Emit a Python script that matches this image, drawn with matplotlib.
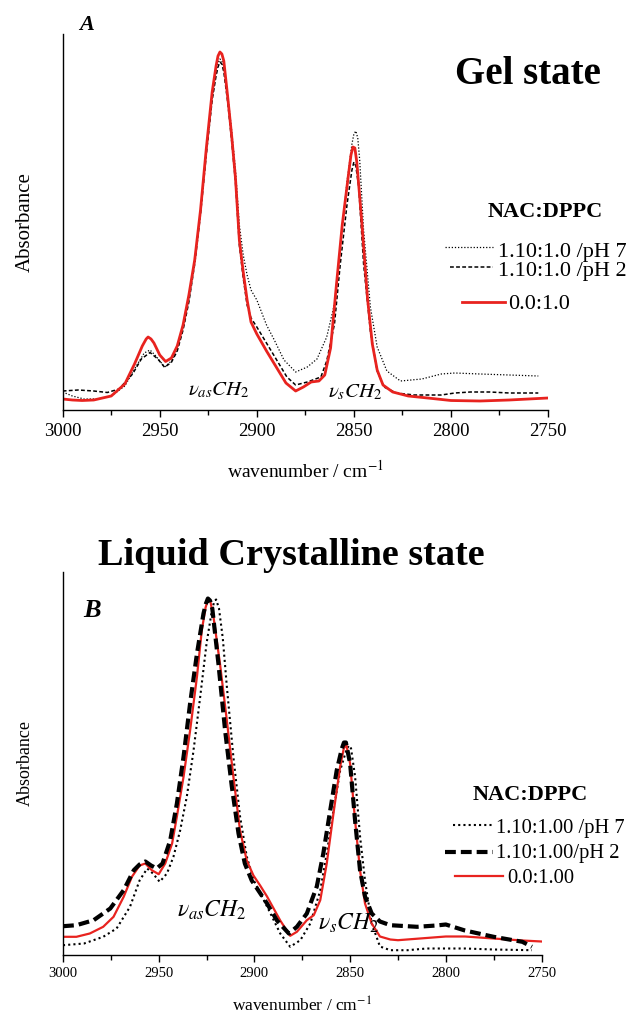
import matplotlib
matplotlib.use('Agg')
import matplotlib.pyplot as plt
from matplotlib.lines import Line2D

plt.rcParams['font.family'] = 'Liberation Serif'
plt.rcParams['mathtext.fontset'] = 'stix'

# ---- Gel state spectra (absorbance, arbitrary units) ----
gel_wn_ph7 = [3000, 2995, 2989, 2982, 2975, 2968, 2963, 2958, 2955, 2952, 2947.5, 2944, 2941, 2938,
              2935, 2932, 2929, 2926, 2923, 2921, 2920, 2919, 2918, 2917, 2915, 2913, 2911, 2909,
              2907, 2905, 2903, 2900, 2895, 2891, 2886, 2880, 2874, 2869, 2864, 2860, 2857, 2853.5,
              2851, 2850, 2849, 2848, 2847, 2845, 2841.5, 2838, 2833, 2826, 2815, 2805, 2798, 2785,
              2770, 2755]
gel_ab_ph7 = [18, 14, 11, 11, 14, 24, 41, 57, 60, 54, 43, 49, 61, 82,
              110, 148, 198, 258, 312, 338, 347, 351, 349, 343, 315, 280, 240, 185,
              155, 135, 120, 110, 85, 70, 50, 38, 43, 51, 73, 106, 163, 229,
              266, 276, 279, 272, 250, 180, 103, 63, 39, 29, 31, 36, 37, 36,
              35, 34]

gel_wn_ph2 = [3000, 2992, 2984, 2977, 2971, 2964, 2959.5, 2955, 2951, 2947.5, 2944, 2941, 2938, 2935,
              2932, 2929, 2926, 2923, 2921, 2920, 2919, 2918, 2917, 2915, 2913, 2911, 2909, 2907,
              2905, 2903, 2900, 2891, 2884.5, 2880, 2874, 2867, 2864, 2860, 2857, 2853.5, 2851,
              2850, 2849, 2847.5, 2845, 2841.5, 2838, 2834.5, 2828, 2819, 2805, 2798, 2790, 2780,
              2770, 2755]
gel_ab_ph2 = [19, 20, 19, 17.5, 21, 36, 51, 57.5, 51, 42.7, 47.7, 59, 80, 108,
              146, 196, 256, 310, 334, 343, 348, 346, 338, 308, 270, 228, 165, 132,
              105, 92, 83, 54, 33, 25, 28, 33, 49, 86, 146, 206, 240,
              248, 244, 223, 146, 79, 39, 23, 17, 15, 15, 17, 18, 18,
              17, 17]

gel_wn_ctrl = [3000, 2995, 2990, 2984, 2975, 2968, 2963, 2959, 2957, 2956, 2954.5, 2953, 2950, 2947,
               2944, 2941, 2938, 2935, 2932, 2929, 2926, 2923, 2921, 2920, 2919, 2918, 2917, 2915,
               2913, 2911, 2909, 2907, 2905, 2903, 2900, 2895, 2890, 2885, 2880, 2876, 2872, 2868,
               2865, 2862, 2859, 2856, 2853, 2851.5, 2850.5, 2849.5, 2848.5, 2846, 2843, 2840.5,
               2838, 2835, 2830, 2822, 2812, 2800, 2785, 2770, 2760, 2750]
gel_ab_ctrl = [11, 10, 9.5, 10, 14, 26, 46, 64, 71, 73, 71, 67, 55, 48.5,
               52, 64, 85, 115, 150, 200, 262, 318, 344, 354, 358, 356, 349, 313,
               275, 232, 170, 138, 110, 88, 76, 59, 43, 27, 19, 23, 28, 29,
               35, 62, 125, 185, 232, 255, 263, 262, 248, 190, 112, 66,
               40, 25, 18, 14, 12, 9.5, 9, 10, 11, 12]

# ---- Liquid crystalline state spectra ----
lc_wn_ph7 = [3000, 2989, 2979, 2972, 2965, 2960, 2956, 2953, 2949.5, 2945.7, 2942.3, 2938.8, 2935.3,
             2931.8, 2928.3, 2925, 2922.3, 2921, 2920, 2918.5, 2916.5, 2914.4, 2911, 2907.5, 2904,
             2900.3, 2893.4, 2886.5, 2881.3, 2876, 2870.8, 2865.6, 2862.2, 2858.7, 2855.2, 2851.7,
             2850.5, 2849.5, 2847.4, 2844.8, 2842.2, 2838.7, 2834.4, 2829, 2820, 2810, 2800, 2790,
             2775, 2755]
lc_ab_ph7 = [8.3, 10, 16.7, 25, 46.7, 73, 85, 80, 71.7, 80, 96.7, 123, 157,
             203, 257, 310, 342, 352, 354, 345, 315, 267, 197, 137, 97,
             73, 47, 20, 6.7, 13.3, 30, 63, 100, 143, 183, 205,
             208, 205, 177, 117, 73, 30, 7, 3.3, 3.3, 5, 5, 5,
             4, 3.3]

lc_wn_ph2 = [3000, 2993, 2984, 2975.3, 2968.3, 2963, 2960, 2957, 2954, 2951, 2948, 2944, 2940.5,
             2937, 2933.6, 2930, 2926.6, 2925.3, 2924.3, 2923.2, 2922, 2918.8, 2915.3, 2911.8,
             2908.3, 2905, 2901.4, 2893.4, 2888.2, 2882, 2877.8, 2872.6, 2867.4, 2864, 2860.4,
             2857, 2854.3, 2853.2, 2852.2, 2850, 2847.4, 2844.8, 2842.2, 2838.7, 2834.4, 2829,
             2815, 2805, 2800, 2795, 2790, 2775, 2760, 2755]
lc_ab_ph2 = [27.3, 28.3, 33.3, 45, 63.3, 83.3, 89, 92, 88, 85, 90, 113, 150,
             197, 250, 300, 340, 350, 355, 353, 345, 290, 223, 167,
             120, 90, 73, 50, 33, 20, 26.7, 40, 67, 100, 143,
             183, 205, 211, 211, 190, 133, 83, 57, 40, 32, 28.3,
             26.7, 28, 29, 26, 23, 16.7, 11.7, 6.7]

lc_wn_ctrl = [3000, 2993, 2986, 2979, 2973.6, 2968.3, 2964, 2960, 2957, 2953.6, 2950, 2946.6, 2943,
              2940.5, 2937, 2933.6, 2930, 2927.5, 2925.5, 2924.2, 2923, 2921.4, 2918, 2914.4, 2911,
              2907.5, 2904, 2900.5, 2897, 2893.4, 2886.5, 2881.3, 2877.8, 2872.6, 2869, 2865.6,
              2862.2, 2858.7, 2855.2, 2853.3, 2852, 2850, 2847.4, 2844.8, 2842.2, 2838.7, 2834.4,
              2829, 2825, 2813.5, 2800, 2790, 2775, 2760, 2750]
lc_ab_ctrl = [16.7, 16.7, 20, 26.7, 36.7, 56.7, 76.7, 88, 90, 83.3, 79.3, 90, 110,
              137, 177, 223, 277, 323, 346, 354, 352, 337, 290, 233, 177,
              123, 93, 78, 68, 57, 33, 17.7, 21.7, 33.3, 38.3, 53.3,
              90, 140, 187, 205, 209, 190, 133, 83, 50, 30, 17,
              14, 13.3, 15, 17, 17, 15, 13, 12]

W, H = 633, 1015
fig = plt.figure(figsize=(W / 100, H / 100), dpi=100)


def px(x, y):
    return x / W, 1 - y / H


def style_axes(ax, tick_size, pad):
    ax.set_xlim(3000, 2750)
    ax.set_xticks([3000, 2950, 2900, 2850, 2800, 2750])
    ax.set_xticks([2975, 2925, 2875, 2825, 2775], minor=True)
    ax.set_yticks([])
    for s in ['top', 'right']:
        ax.spines[s].set_visible(False)
    for s in ['left', 'bottom']:
        ax.spines[s].set_linewidth(1.0)
    ax.tick_params(axis='x', which='major', direction='out', length=5, width=1,
                   labelsize=tick_size, pad=pad)
    ax.tick_params(axis='x', which='minor', direction='out', length=3.5, width=1)


# top panel: gel state
ax1 = fig.add_axes([62.7 / W, 1 - 410 / H, (548 - 62.7) / W, (410 - 34) / H])
ax1.plot(gel_wn_ph7, gel_ab_ph7, color='black', lw=0.9, linestyle=(0, (1, 1.5)))
ax1.plot(gel_wn_ph2, gel_ab_ph2, color='black', lw=1.1, linestyle=(0, (2.5, 1.5)))
ax1.plot(gel_wn_ctrl, gel_ab_ctrl, color='#e8231f', lw=2.0)
ax1.set_ylim(0, 376)
style_axes(ax1, 13.5, 4.5)
ax1.set_xlabel('wavenumber / cm$^{-1}$', fontsize=14, labelpad=14)
ax1.set_ylabel('Absorbance', fontsize=15, labelpad=20)

# bottom panel: liquid crystalline state
ax2 = fig.add_axes([63 / W, 1 - 955 / H, (541.5 - 63) / W, (955 - 572) / H])
ax2.plot(lc_wn_ph7, lc_ab_ph7, color='black', lw=1.5, linestyle=(0, (1, 1.5)))
ax2.plot(lc_wn_ctrl, lc_ab_ctrl, color='#e8231f', lw=1.6)
ax2.plot(lc_wn_ph2, lc_ab_ph2, color='black', lw=3.0, linestyle=(0, (2.6, 1.2)))
ax2.set_ylim(-1.5, 381.5)
style_axes(ax2, 10.5, 3.5)
ax2.set_xlabel('wavenumber / cm$^{-1}$', fontsize=12.5, labelpad=12)
ax2.set_ylabel('Absorbance', fontsize=13, labelpad=21)

# panel letters and titles
fig.text(*px(79, 30), 'A', fontsize=16, fontweight='bold', fontstyle='italic', va='baseline')
fig.text(*px(83, 617), 'B', fontsize=19, fontweight='bold', fontstyle='italic', va='baseline')
fig.text(*px(528, 84), 'Gel state', fontsize=28, fontweight='bold', ha='center', va='baseline')
fig.text(*px(291, 565), 'Liquid Crystalline state', fontsize=27.5, fontweight='bold',
         ha='center', va='baseline')

# band assignments
fig.text(*px(188, 395), r'$\nu_{as}CH_2$', fontsize=15, va='baseline')
fig.text(*px(328, 397), r'$\nu_{s}CH_2$', fontsize=15, va='baseline')
fig.text(*px(177, 917), r'$\nu_{as}CH_2$', fontsize=17, va='baseline')
fig.text(*px(318, 930), r'$\nu_{s}CH_2$', fontsize=17, va='baseline')


def legend_row(x0, x1, y_line, tx, ty, label, size, **kw):
    (a, b), (c, d) = px(x0, y_line), px(x1, y_line)
    fig.add_artist(Line2D([a, c], [b, d], transform=fig.transFigure, **kw))
    fig.text(*px(tx, ty), label, fontsize=size, va='baseline')


# gel legend
fig.text(*px(545, 217), 'NAC:DPPC', fontsize=16, fontweight='bold', ha='center', va='baseline')
legend_row(445, 493, 247, 498, 257, '1.10:1.0 /pH 7', 16, color='black', lw=0.9,
           linestyle=(0, (1, 1.5)))
legend_row(450, 493, 267, 498, 276, '1.10:1.0 /pH 2', 16, color='black', lw=1.1,
           linestyle=(0, (2.5, 1.5)))
legend_row(462, 505, 302, 508, 309, '0.0:1.0', 16, color='#e8231f', lw=2.0)

# liquid crystalline legend
fig.text(*px(530, 800), 'NAC:DPPC', fontsize=16, fontweight='bold', ha='center', va='baseline')
legend_row(453, 493, 825, 496, 833, '1.10:1.00 /pH 7', 14.8, color='black', lw=1.5,
           linestyle=(0, (1, 1.5)))
legend_row(445, 493, 852, 496, 858, '1.10:1.00/pH 2', 14.8, color='black', lw=3.0,
           linestyle=(0, (2.6, 1.2)))
legend_row(455, 503, 876, 507, 883, '0.0:1.00', 14.8, color='#e8231f', lw=1.6)

fig.savefig('out.png', dpi=100)
